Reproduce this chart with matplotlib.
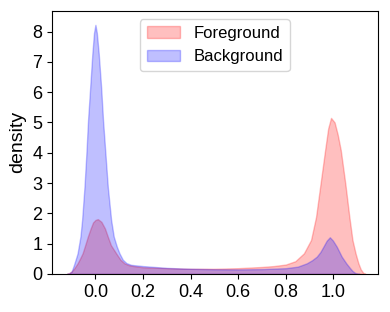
import matplotlib
matplotlib.use("Agg")
import matplotlib.pyplot as plt
import numpy as np

plt.rcParams['font.family'] = ['Liberation Sans', 'DejaVu Sans']

# density curves (x, density)
fg_x = [-0.12, -0.11, -0.10, -0.09, -0.075, -0.065, -0.054, -0.043, -0.032, -0.02,
        -0.01, 0.0, 0.01, 0.025, 0.04, 0.052, 0.065, 0.087, 0.105, 0.122,
        0.14, 0.16, 0.2, 0.3, 0.4, 0.5, 0.6, 0.7, 0.75, 0.8,
        0.84, 0.876, 0.906, 0.927, 0.946, 0.965, 0.978, 0.99, 1.005, 1.018,
        1.031, 1.05, 1.067, 1.08, 1.093, 1.105, 1.115, 1.125, 1.135]
fg_y = [0.0, 0.03, 0.08, 0.17, 0.35, 0.5, 0.68, 0.95, 1.23, 1.5,
        1.7, 1.78, 1.81, 1.72, 1.5, 1.23, 0.95, 0.68, 0.47, 0.35,
        0.29, 0.26, 0.22, 0.19, 0.17, 0.17, 0.19, 0.23, 0.26, 0.31,
        0.42, 0.68, 1.12, 1.88, 2.98, 4.08, 4.8, 5.15, 5.0, 4.6,
        4.08, 2.98, 1.88, 1.12, 0.68, 0.35, 0.15, 0.04, 0.0]

bg_x = [-0.12, -0.11, -0.10, -0.09, -0.08, -0.075, -0.063, -0.056, -0.046, -0.038,
        -0.031, -0.022, -0.013, -0.006, 0.0, 0.006, 0.014, 0.024, 0.032, 0.042,
        0.052, 0.066, 0.077, 0.09, 0.101, 0.115, 0.13, 0.15, 0.2, 0.3,
        0.4, 0.5, 0.6, 0.7, 0.8, 0.85, 0.888, 0.91, 0.93, 0.945,
        0.958, 0.972, 0.985, 0.998, 1.014, 1.035, 1.054, 1.07, 1.08, 1.09,
        1.10, 1.11]
bg_y = [0.0, 0.02, 0.08, 0.3, 0.55, 0.68, 1.23, 1.78, 2.87, 3.97,
        5.07, 6.16, 7.26, 7.95, 8.22, 7.95, 7.26, 6.16, 5.07, 3.97,
        2.87, 1.78, 1.23, 0.9, 0.68, 0.47, 0.36, 0.30, 0.26, 0.2,
        0.17, 0.155, 0.15, 0.16, 0.19, 0.24, 0.35, 0.45, 0.57, 0.72,
        0.9, 1.1, 1.21, 1.1, 0.9, 0.57, 0.35, 0.19, 0.1, 0.04,
        0.01, 0.0]

fig = plt.figure(figsize=(3.9, 3.12), dpi=100)
ax = fig.add_axes([0.133, 0.122, 0.836, 0.843])

ax.fill_between(np.asarray(fg_x), np.asarray(fg_y), 0, facecolor='red', edgecolor='red',
                alpha=0.25, linewidth=1.0, label='Foreground')
ax.fill_between(np.asarray(bg_x), np.asarray(bg_y), 0, facecolor='blue', edgecolor='blue',
                alpha=0.25, linewidth=1.0, label='Background')

ax.set_xlim(-0.183, 1.187)
ax.set_ylim(0, 8.68)
ax.set_xticks([0.0, 0.2, 0.4, 0.6, 0.8, 1.0])
ax.set_yticks(range(0, 9))
ax.tick_params(labelsize=13)
ax.set_ylabel('density', fontsize=14)
ax.legend(loc='upper center', fontsize=12)

plt.savefig('out.png', dpi=100)
